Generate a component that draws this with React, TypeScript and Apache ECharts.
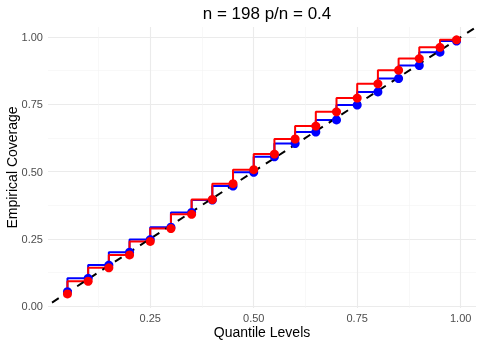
import React, { useEffect, useRef } from "react";
import * as echarts from "echarts";

const quantileLevels = [0.05, 0.1, 0.15, 0.2, 0.25, 0.3, 0.35, 0.4, 0.45, 0.5, 0.55, 0.6, 0.65, 0.7, 0.75, 0.8, 0.85, 0.9, 0.95, 0.99];
const blueCoverage = [0.053, 0.103, 0.152, 0.2, 0.247, 0.293, 0.348, 0.394, 0.446, 0.497, 0.555, 0.604, 0.647, 0.692, 0.747, 0.796, 0.846, 0.894, 0.944, 0.985];
const redCoverage = [0.045, 0.092, 0.142, 0.19, 0.24, 0.288, 0.341, 0.396, 0.455, 0.507, 0.565, 0.621, 0.669, 0.722, 0.773, 0.826, 0.877, 0.92, 0.962, 0.99];
const majorTicks = [0, 0.25, 0.5, 0.75, 1];
const minorTicks = [0.125, 0.375, 0.625, 0.875];
const titleText = "n = 198 p/n = 0.4";
const xTitle = "Quantile Levels";
const yTitle = "Empirical Coverage";
const diagonal = [-0.2, 1.2];

const FONT = "Liberation Sans";
const X_MIN = 0.003, X_MAX = 1.037, Y_MIN = -0.0075, Y_MAX = 1.0375;

export default function App() {
  const ref = useRef<HTMLDivElement>(null);
  useEffect(() => {
    document.body.style.margin = "0";
    const chart = echarts.init(ref.current!, null, { renderer: "svg" });
    const fmt = (v: number) => v.toFixed(2);
    const majorX = {
      type: "value", min: X_MIN, max: X_MAX, position: "bottom",
      name: xTitle, nameLocation: "middle", nameGap: 17, nameMoveOverlap: false,
      nameTextStyle: { color: "#000", fontSize: 14, fontFamily: FONT },
      axisLine: { show: false }, axisTick: { show: false, customValues: majorTicks.slice(1) },
      axisLabel: { customValues: majorTicks.slice(1), formatter: fmt, color: "#4D4D4D", fontSize: 11, fontFamily: FONT, margin: 4 },
      splitLine: { show: true, lineStyle: { color: "#EBEBEB", width: 1.1 } },
    };
    const minorX = {
      type: "value", min: X_MIN, max: X_MAX, position: "bottom",
      axisLine: { show: false }, axisTick: { show: false, customValues: minorTicks },
      axisLabel: { show: false, customValues: minorTicks },
      splitLine: { show: true, lineStyle: { color: "#F4F4F4", width: 0.6 } },
    };
    const majorY = {
      type: "value", min: Y_MIN, max: Y_MAX, position: "left",
      name: yTitle, nameLocation: "middle", nameGap: 29, nameMoveOverlap: false,
      nameTextStyle: { color: "#000", fontSize: 14, fontFamily: FONT },
      axisLine: { show: false }, axisTick: { show: false, customValues: majorTicks },
      axisLabel: { customValues: majorTicks, formatter: fmt, color: "#4D4D4D", fontSize: 11, fontFamily: FONT, margin: 5 },
      splitLine: { show: true, lineStyle: { color: "#EBEBEB", width: 1.1 } },
    };
    const minorY = {
      type: "value", min: Y_MIN, max: Y_MAX, position: "left",
      axisLine: { show: false }, axisTick: { show: false, customValues: minorTicks },
      axisLabel: { show: false, customValues: minorTicks },
      splitLine: { show: true, lineStyle: { color: "#F4F4F4", width: 0.6 } },
    };
    chart.setOption({
      animation: false,
      title: {
        text: titleText, left: 262, top: 0, textAlign: "center",
        textStyle: { fontSize: 17, fontWeight: "normal", color: "#000", fontFamily: FONT },
      },
      grid: { left: 48, right: 6, top: 27, bottom: 36, containLabel: false, outerBoundsMode: "none" },
      xAxis: [minorX, majorX],
      yAxis: [minorY, majorY],
      series: [
        {
          type: "line", xAxisIndex: 1, yAxisIndex: 1, step: "start",
          data: quantileLevels.map((x, i) => [x, blueCoverage[i]]),
          lineStyle: { color: "#0000FF", width: 2 }, itemStyle: { color: "#0000FF" },
          symbol: "circle", symbolSize: 9, showSymbol: true,
        },
        {
          type: "line", xAxisIndex: 1, yAxisIndex: 1, step: "start",
          data: quantileLevels.map((x, i) => [x, redCoverage[i]]),
          lineStyle: { color: "#FF0000", width: 2 }, itemStyle: { color: "#FF0000" },
          symbol: "circle", symbolSize: 9, showSymbol: true,
        },
        {
          type: "line", xAxisIndex: 1, yAxisIndex: 1, clip: true,
          data: diagonal.map((v) => [v, v]),
          lineStyle: { color: "#000", width: 2, type: [8, 7] }, symbol: "none",
        },
      ],
    });
    return () => chart.dispose();
  }, []);
  return <div ref={ref} style={{ width: 482, height: 344, position: "fixed", left: 0, top: 0 }} />;
}
